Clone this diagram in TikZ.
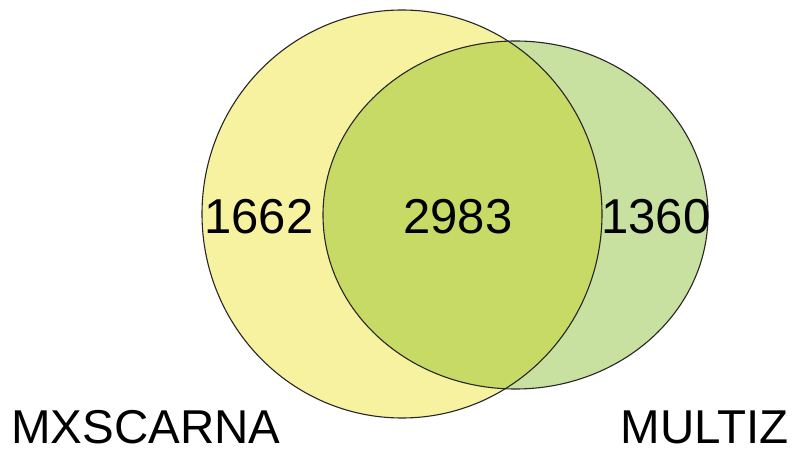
\documentclass[tikz,border=0pt]{standalone}
\usepackage{fontspec}
\setmainfont{Liberation Sans}
\usepackage{tikz}

\definecolor{mxsfill}{RGB}{247,242,160}
\definecolor{multizfill}{RGB}{200,224,160}
\definecolor{bothfill}{RGB}{200,218,102}

\begin{document}
\begin{tikzpicture}[x=1pt,y=1pt]
  \tikzset{count/.style = {font=\fontsize{49}{52}\selectfont, inner sep=0pt}}
  \tikzset{setname/.style = {font=\fontsize{47.5}{50}\selectfont, inner sep=0pt}}
  \tikzset{rim/.style = {draw=black!85, line width=1.1pt}}

  \useasboundingbox (0,0) rectangle (793,450);

  % the two sets
  \fill[mxsfill] (402,236) ellipse [x radius=200, y radius=204];
  \fill[multizfill] (515.5,235) ellipse [x radius=192.5, y radius=174];
  \begin{scope}
    \clip (402,236) ellipse [x radius=200, y radius=204];
    \fill[bothfill] (515.5,235) ellipse [x radius=192.5, y radius=174];
  \end{scope}
  \draw[rim] (402,236) ellipse [x radius=200, y radius=204];
  \draw[rim] (515.5,235) ellipse [x radius=192.5, y radius=174];

  \node[count] (onlyMXS) at (259,233) {1662};
  \node[count] (both) at (458,233) {2983};
  \node[count] (onlyMZ) at (656,233) {1360};

  \node[setname, anchor=base west] (MXS) at (11,6) {MXSCARNA};
  \node[setname, anchor=base east] (MZ) at (789,6) {MULTIZ};

\end{tikzpicture}
\end{document}
